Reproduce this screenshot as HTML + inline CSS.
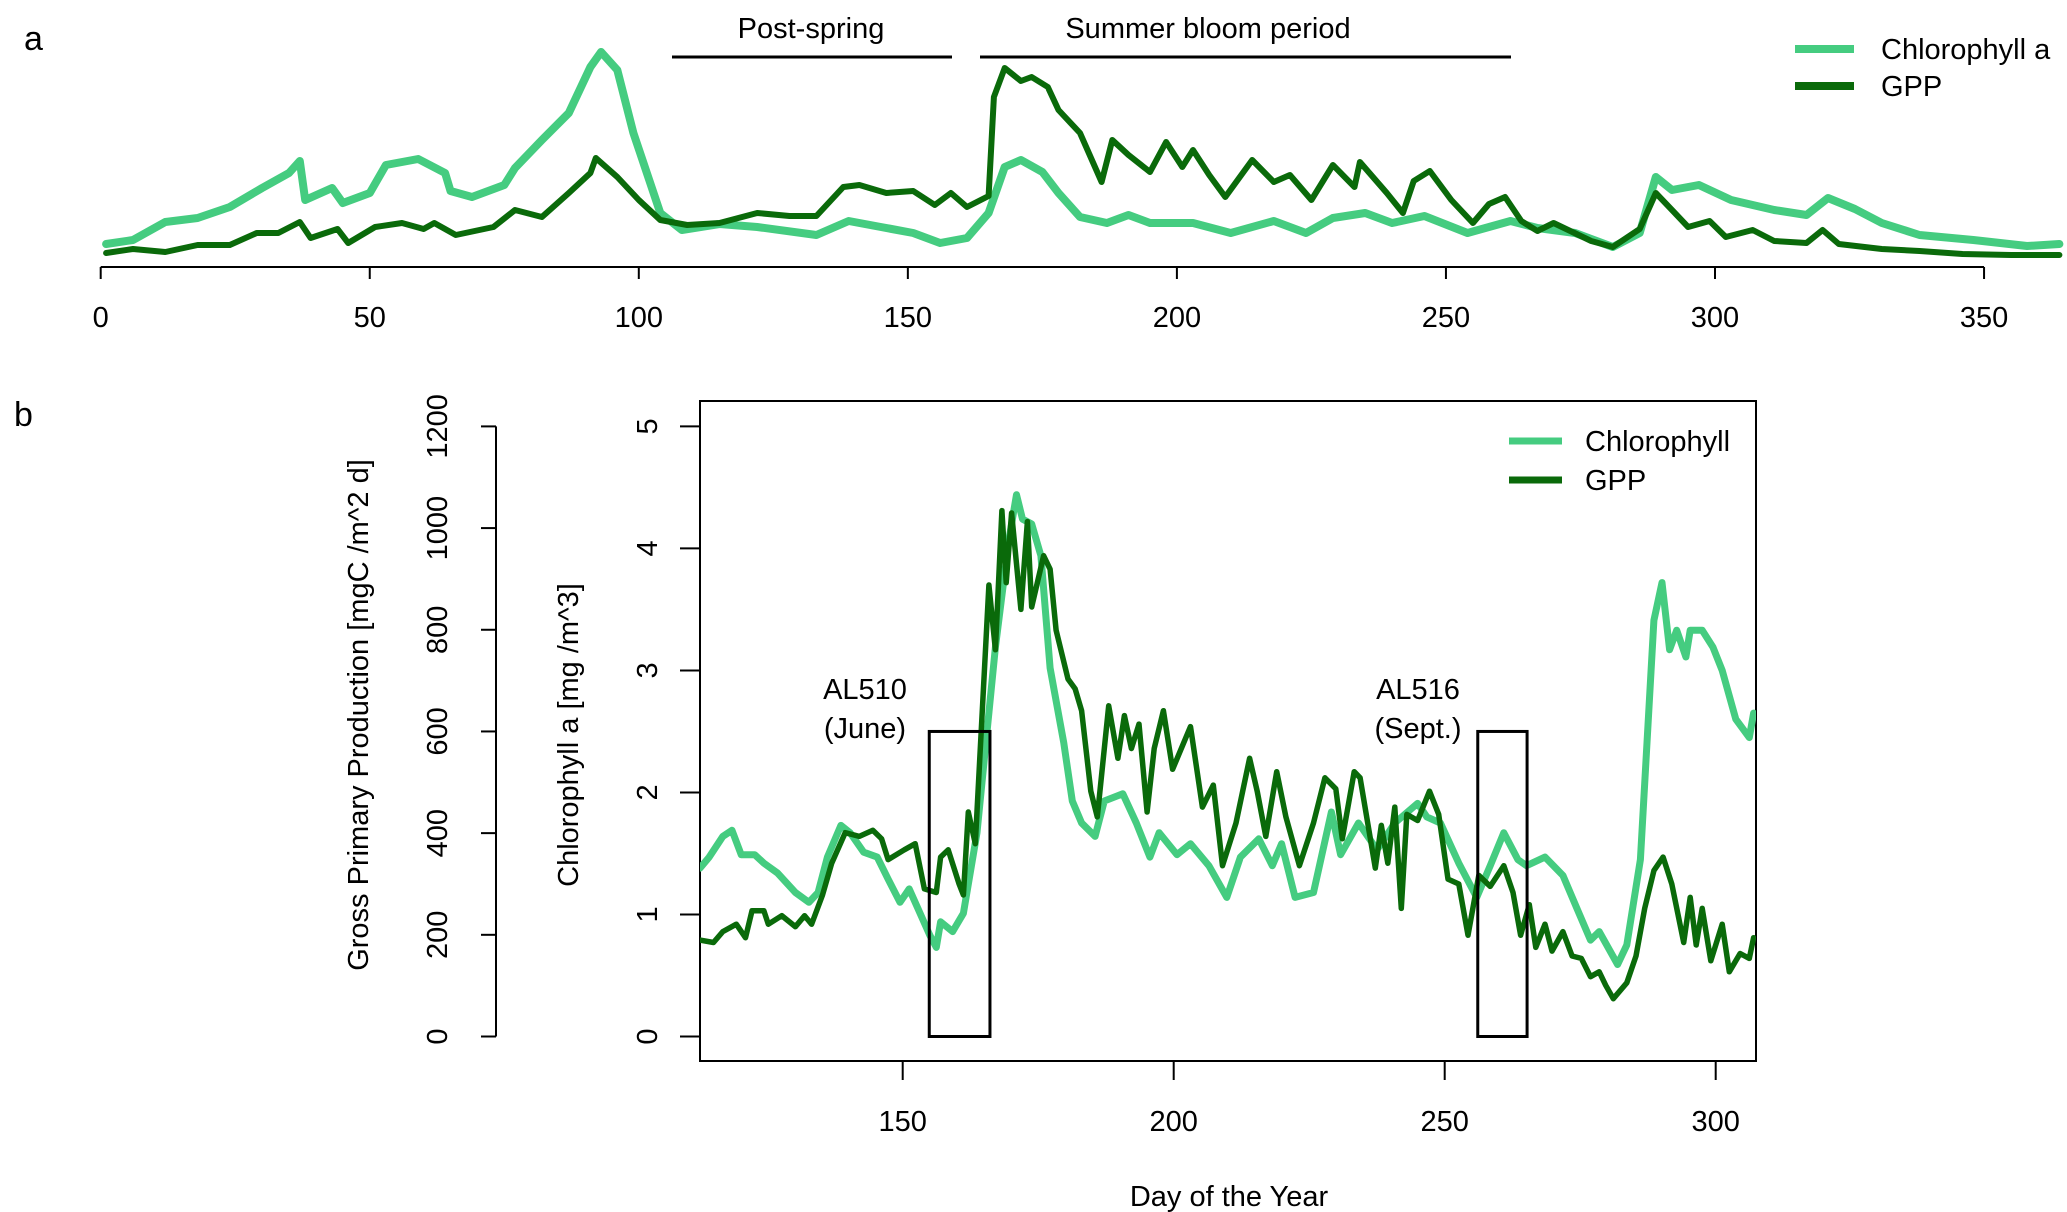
<!DOCTYPE html>
<html><head><meta charset="utf-8"><style>
html,body{margin:0;padding:0;background:#fff}
svg{display:block;font-family:"Liberation Sans",Arial,sans-serif}
</style></head><body>
<svg id="chart" width="2067" height="1212" viewBox="0 0 2067 1212">
<defs><clipPath id="clipB"><rect x="700" y="401" width="1056" height="660"/></clipPath></defs>
<g id="pa"></g>
<g id="pb"></g>
</svg>
<script>
// Panel a (relative units)
const aChlDays=[1,6,12,18,24,30,35,37,38,43,45,50,53,59,64,65,69,75,77,82,87,91,93,96,99,104,108,115,122,133,139,145,151,156,161,165,168,171,175,178,182,187,191,195,203,210,218,224,229,235,240,246,254,262,267,274,281,286,289,292,297,303,311,317,321,326,331,338,348,358,364];
const aChlVals=[5.5,7.5,16.5,18.5,24,33.5,41,47,27.5,33.5,26,31,45,48,41,32,29,35,43.5,57.5,71,94,101.5,92.5,61,21,12.5,15.5,14,10,17,14,11,6,8.5,21,44,47.5,41.5,31,19,16,20,16,16,11,17,11,18.5,21,16,19.5,11,17,13.5,11,4,11,39,32.5,35,27.5,22.5,20,28.5,23,16,10,7.5,4.5,5.5];
const aGppDays=[1,6,12,18,24,29,33,37,39,44,46,51,56,60,62,66,73,77,82,87,91,92,96,100,104,109,115,122,128,133,138,141,146,151,155,158,161,165,166,168,171,173,176,178,182,186,188,191,195,198,201,203,206,209,214,218,221,225,229,233,234,239,242,244,247,251,255,258,261,264,267,270,277,281,286,289,292,295,299,302,307,311,317,320,323,331,338,346,355,364];
const aGppVals=[1,3,1.5,5,5,11,11,16.5,8.5,13,6,14,16,13,16,10,14,22.5,19,31,41,48.5,39,27.5,17.5,15,16,21,19.5,19.5,34,35,31,32,25,31,24,29.5,79,93.5,87,89,84,72.5,61,36.5,57.5,50,41.5,56.5,44,52.5,40,29,47.5,36.5,40,27.5,45,34,46.5,31,21,37,42,27.5,16,25.5,29,17,12,16,7,4,13,31,22.5,14,17,9,12.5,7,6,12.5,5.5,3,2,0.5,0,0];
const aTicks=[0,50,100,150,200,250,300,350];
// Panel b
const bChlDays=[112.6,114.3,116.8,118.5,120.2,122.7,124.4,126.9,130.2,132.7,134.4,136.1,138.6,140.3,142.8,145.3,147.3,149.5,151.2,152.8,155,156.2,157,159.2,161.2,163.7,167.1,169.6,171,172.1,173.8,175.5,177.2,179.7,181.3,183,185.5,187.2,190.6,193.1,195.6,197.3,200.6,203.1,206.5,209.8,212.3,215.7,218.2,219.9,222.4,225.8,229.1,230.8,234.1,237.5,240.8,245,246.7,249.2,252.6,255.9,258.4,260.9,263.5,265.1,268.5,271.8,274.4,276.9,278.5,281.9,283.6,286.1,288.6,290.1,291.5,292.8,294.5,295.3,297.5,299.5,301.2,303.7,306.2,307];
const bChlVals=[1.38,1.47,1.64,1.69,1.49,1.49,1.42,1.34,1.18,1.10,1.18,1.47,1.73,1.67,1.51,1.47,1.29,1.10,1.21,1.05,0.83,0.73,0.94,0.86,1.01,1.67,3.19,4.07,4.44,4.24,4.2,3.94,3.02,2.41,1.93,1.75,1.64,1.93,1.99,1.75,1.47,1.67,1.49,1.58,1.40,1.14,1.47,1.62,1.40,1.58,1.14,1.18,1.84,1.49,1.75,1.53,1.75,1.91,1.80,1.75,1.42,1.14,1.40,1.67,1.45,1.40,1.47,1.32,1.05,0.79,0.86,0.59,0.75,1.45,3.41,3.72,3.17,3.33,3.11,3.33,3.33,3.19,3.00,2.60,2.45,2.65];
const bGppDays=[112.6,115.1,116.8,119.3,121,122.2,124.4,125.2,127.7,130.2,131.9,133.2,135.2,136.9,139.4,142,144.5,146.1,147.3,150.3,152.3,154,156.2,157,158.4,160.4,161.2,162.1,163.4,165.9,167.1,168.3,169.1,170.1,171.8,173,173.8,176,177.2,178.3,180.5,181.8,183,184.7,185.9,188,189.7,190.9,192.2,193.6,195.1,196.4,198.1,199.8,203.1,205.3,207.3,209,211.5,214,215.4,217,219,220.7,223.2,225.8,227.9,229.9,231.1,233.3,234.4,237.2,238.3,239.5,240.8,242,243,245,247.2,248.9,250.6,252.6,254.3,256.3,258.4,260.9,262.6,264,265.6,266.8,268.5,269.8,271.8,273.5,275.2,276.9,278.5,279.7,281.1,283.6,285.3,286.9,288.6,290.3,291.9,294.1,295.3,296.4,297.5,299.1,301.2,302.5,304.5,306.2,307];
const bGppChlUnits=[0.79,0.77,0.86,0.92,0.81,1.03,1.03,0.92,0.99,0.90,0.99,0.92,1.16,1.42,1.67,1.64,1.69,1.62,1.45,1.53,1.58,1.21,1.18,1.47,1.53,1.25,1.16,1.84,1.58,3.70,3.17,4.31,3.72,4.29,3.50,4.22,3.52,3.94,3.83,3.33,2.93,2.85,2.67,2.01,1.80,2.71,2.28,2.63,2.36,2.56,1.84,2.36,2.67,2.19,2.54,1.88,2.06,1.40,1.75,2.28,2.01,1.64,2.17,1.80,1.40,1.75,2.12,2.03,1.62,2.17,2.12,1.38,1.73,1.42,1.88,1.05,1.82,1.77,2.01,1.82,1.29,1.25,0.83,1.32,1.23,1.40,1.18,0.83,1.08,0.73,0.92,0.70,0.86,0.66,0.64,0.49,0.53,0.42,0.31,0.44,0.66,1.05,1.36,1.47,1.25,0.77,1.14,0.75,1.05,0.62,0.92,0.53,0.68,0.64,0.81];
const bXTicks=[150,200,250,300];
const bChlTicks=[0,1,2,3,4,5];
const bGppTicks=[0,200,400,600,800,1000,1200];

const NS="http://www.w3.org/2000/svg";
const LIGHT="#45cc80", DARK="#0a6a0a";
function mk(parent,tag,attrs,text){const e=document.createElementNS(NS,tag);for(const k in attrs)e.setAttribute(k,attrs[k]);if(text!==undefined)e.textContent=text;parent.appendChild(e);return e;}
const pa=document.getElementById('pa'), pb=document.getElementById('pb');

// ---- Panel a
const axA=d=>100.7+d*5.381, ayA=v=>255-v*2.0;
let e;
e=mk(pa,'text',{x:24,y:50,'font-size':34},'a');


e=mk(pa,'line',{x1:axA(0),x2:axA(350),y1:267,y2:267,stroke:'#000','stroke-width':2});


aTicks.forEach(t=>{
  e=mk(pa,'line',{x1:axA(t),x2:axA(t),y1:267,y2:279,stroke:'#000','stroke-width':2});
  
  
  e=mk(pa,'text',{x:axA(t),y:327,'font-size':29,'text-anchor':'middle'},String(t));
  
  
});
function poly(parent,days,vals,fx,fy,color,w,name,clip){
  const pts=days.map((d,i)=>fx(d).toFixed(1)+','+fy(vals[i]).toFixed(1)).join(' ');
  const p=mk(parent,'polyline',{points:pts,fill:'none',stroke:color,'stroke-width':w,'stroke-linejoin':'round','stroke-linecap':'round'});
  if(clip)p.setAttribute('clip-path','url(#clipB)');
  
  
}
poly(pa,aChlDays,aChlVals,axA,ayA,LIGHT,8,'chlorophyll-line-a');
poly(pa,aGppDays,aGppVals,axA,ayA,DARK,6,'gpp-line-a');
e=mk(pa,'line',{x1:672,x2:952,y1:57,y2:57,stroke:'#000','stroke-width':3});


e=mk(pa,'text',{x:811,y:38,'font-size':29,'text-anchor':'middle'},'Post-spring');


e=mk(pa,'line',{x1:980,x2:1511,y1:57,y2:57,stroke:'#000','stroke-width':3});


e=mk(pa,'text',{x:1208,y:38,'font-size':29,'text-anchor':'middle'},'Summer bloom period');


e=mk(pa,'line',{x1:1795,x2:1854,y1:49,y2:49,stroke:LIGHT,'stroke-width':8});


e=mk(pa,'text',{x:1881,y:59,'font-size':29},'Chlorophyll a');


e=mk(pa,'line',{x1:1795,x2:1854,y1:86,y2:86,stroke:DARK,'stroke-width':8});


e=mk(pa,'text',{x:1881,y:96,'font-size':29},'GPP');



// ---- Panel b
const bx=d=>902.7+(d-150)*5.42, by=v=>1036.5-v*122.02, byG=g=>by(g/240);
e=mk(pb,'text',{x:14,y:426,'font-size':34},'b');


e=mk(pb,'rect',{x:700,y:401,width:1056,height:660,fill:'none',stroke:'#000','stroke-width':2});


bXTicks.forEach(t=>{
  e=mk(pb,'line',{x1:bx(t),x2:bx(t),y1:1061,y2:1080,stroke:'#000','stroke-width':2});
  
  
  e=mk(pb,'text',{x:bx(t),y:1131,'font-size':29,'text-anchor':'middle'},String(t));
  
  
});
e=mk(pb,'text',{x:1229,y:1206,'font-size':29,'text-anchor':'middle'},'Day of the Year');


bChlTicks.forEach(t=>{
  e=mk(pb,'line',{x1:680,x2:700,y1:by(t),y2:by(t),stroke:'#000','stroke-width':2});
  
  
  e=mk(pb,'text',{x:657,y:by(t),'font-size':29,'text-anchor':'middle',transform:`rotate(-90 657 ${by(t)})`},String(t));
  
  
});
e=mk(pb,'text',{x:578,y:735,'font-size':29,'text-anchor':'middle',transform:'rotate(-90 578 735)'},'Chlorophyll a [mg /m^3]');


e=mk(pb,'line',{x1:496,x2:496,y1:byG(0),y2:byG(1200),stroke:'#000','stroke-width':2});


bGppTicks.forEach(t=>{
  e=mk(pb,'line',{x1:481,x2:496,y1:byG(t),y2:byG(t),stroke:'#000','stroke-width':2});
  
  
  e=mk(pb,'text',{x:447,y:byG(t),'font-size':29,'text-anchor':'middle',transform:`rotate(-90 447 ${byG(t)})`},String(t));
  
  
});
e=mk(pb,'text',{x:368,y:715,'font-size':29,'text-anchor':'middle',transform:'rotate(-90 368 715)'},'Gross Primary Production [mgC /m^2 d]');


poly(pb,bChlDays,bChlVals,bx,by,LIGHT,7,'chlorophyll-line-b',true);
poly(pb,bGppDays,bGppChlUnits,bx,by,DARK,5.5,'gpp-line-b',true);
// cruise boxes
e=mk(pb,'rect',{x:bx(154.9),y:by(2.5),width:bx(166.1)-bx(154.9),height:by(0)-by(2.5),fill:'none',stroke:'#000','stroke-width':3});


e=mk(pb,'text',{x:865,y:699,'font-size':29,'text-anchor':'middle'},'AL510');


e=mk(pb,'text',{x:865,y:738,'font-size':29,'text-anchor':'middle'},'(June)');


e=mk(pb,'rect',{x:bx(256.1),y:by(2.5),width:bx(265.2)-bx(256.1),height:by(0)-by(2.5),fill:'none',stroke:'#000','stroke-width':3});


e=mk(pb,'text',{x:1418,y:699,'font-size':29,'text-anchor':'middle'},'AL516');


e=mk(pb,'text',{x:1418,y:738,'font-size':29,'text-anchor':'middle'},'(Sept.)');


// legend b
e=mk(pb,'line',{x1:1509,x2:1562,y1:441,y2:441,stroke:LIGHT,'stroke-width':7});


e=mk(pb,'text',{x:1585,y:451,'font-size':29},'Chlorophyll');


e=mk(pb,'line',{x1:1509,x2:1562,y1:480,y2:480,stroke:DARK,'stroke-width':7});


e=mk(pb,'text',{x:1585,y:490,'font-size':29},'GPP');


</script>
</body></html>
